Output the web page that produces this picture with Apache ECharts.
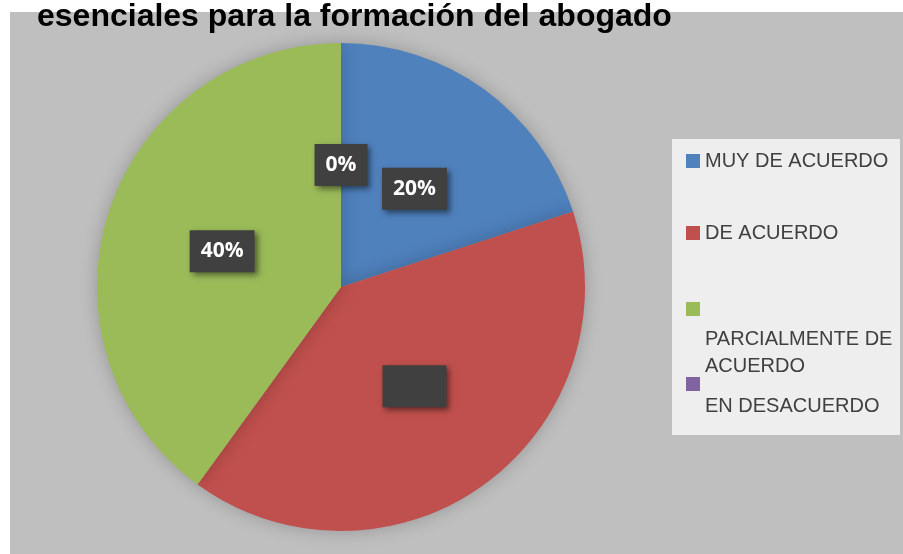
<!DOCTYPE html>
<html>
<head>
<meta charset="utf-8">
<script src="https://cdn.jsdelivr.net/npm/echarts@6/dist/echarts.min.js"></script>
<style>
  html, body { margin: 0; padding: 0; background: #fff; }
  #chart { width: 903px; height: 554px; }
</style>
</head>
<body>
<div id="chart"></div>
<script>
// categorias y porcentajes
var categorias = ['MUY DE ACUERDO', 'DE ACUERDO', 'PARCIALMENTE DE ACUERDO', 'EN DESACUERDO'];
var valores = [20, 40, 40, 0];
var colores = ['#4f81bd', '#c0504d', '#9bbb59', '#8064a2'];
var titulo = 'esenciales para la formación del abogado';

var txtLeyenda = { color: '#404040', fontSize: 20, fontFamily: 'Liberation Sans', lineHeight: 27 };

var datos = [];
for (var i = 0; i < categorias.length; i++) {
    var d = { name: categorias[i], value: valores[i], itemStyle: { color: colores[i] } };
    // la etiqueta del rojo sale vacia en el original
    if (i == 1) {
        d.label = { formatter: ' ', width: 42, height: 21, offset: [0, -2] };
    }
    datos.push(d);
}

// una leyenda por item para poder colocar el texto como en el original
function leyenda(nombre, top, texto, hueco) {
    var l = {
        show: true,
        orient: 'vertical',
        left: 686,
        top: top,
        padding: 0,
        selectedMode: false,
        icon: 'rect',
        itemWidth: 14,
        itemHeight: 14,
        data: [nombre],
        formatter: function () { return hueco ? '{s| }\n' + texto : texto; },
        textStyle: Object.assign({}, txtLeyenda)
    };
    if (hueco) {
        l.textStyle.rich = { s: { lineHeight: hueco, fontSize: 10 } };
    }
    return l;
}

var option = {
    animation: false,
    title: {
        text: titulo,
        left: 37,
        top: 1,
        padding: 0,
        textStyle: { color: '#000', fontSize: 32, fontWeight: 'bold', fontFamily: 'Liberation Sans' }
    },
    graphic: [
        { type: 'rect', z: -10, shape: { x: 10, y: 12, width: 893, height: 542 }, style: { fill: '#bfbfbf' } },
        { type: 'rect', z: 1, shape: { x: 672, y: 139, width: 228, height: 296 }, style: { fill: '#eeeeee' } }
    ],
    legend: [
        leyenda(categorias[0], 147.5, 'MUY DE ACUERDO'),
        leyenda(categorias[1], 219.5, 'DE ACUERDO'),
        leyenda(categorias[2], 238.5, 'PARCIALMENTE DE\nACUERDO', 87),
        leyenda(categorias[3], 348.5, 'EN DESACUERDO', 44)
    ],
    series: [{
        type: 'pie',
        center: [341, 287],
        radius: 244,
        startAngle: 90,
        clockwise: true,
        avoidLabelOverlap: false,
        itemStyle: { shadowBlur: 18, shadowColor: 'rgba(0,0,0,0.22)' },
        label: {
            show: true,
            position: 'inside',
            formatter: '{d}%',
            offset: [0, 3],
            color: '#fff',
            fontSize: 21,
            fontWeight: 'bold',
            fontFamily: 'Open Sans',
            backgroundColor: '#404040',
            padding: [12, 11, 9, 11],
            shadowBlur: 6,
            shadowColor: 'rgba(0,0,0,0.5)',
            shadowOffsetX: 3,
            shadowOffsetY: 3
        },
        labelLine: { show: false },
        emphasis: { disabled: true },
        data: datos
    }]
};

var myChart = echarts.init(document.getElementById('chart'));
myChart.setOption(option);
</script>
</body>
</html>
